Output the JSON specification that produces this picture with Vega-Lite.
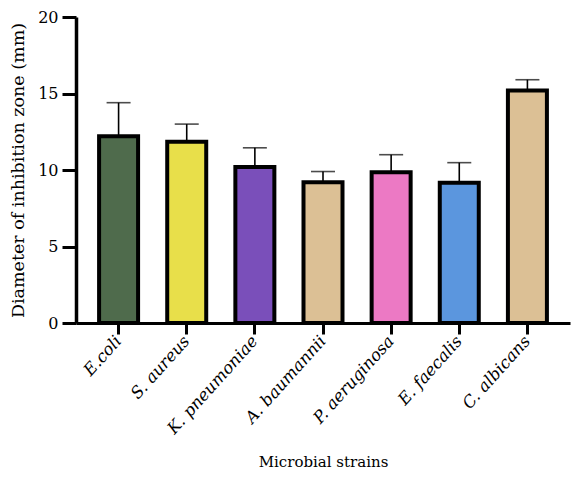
{
  "$schema": "https://vega.github.io/schema/vega-lite/v6.json",
  "width": 494,
  "height": 306,
  "autosize": {"type": "none"},
  "padding": {"left": 76, "top": 17, "right": 2, "bottom": 156},
  "background": "white",
  "config": {
    "view": {"stroke": null},
    "font": "DejaVu Serif"
  },
  "data": {
    "values": [
      {"strain": "E.coli", "mean": 12.2, "upper": 14.4, "color": "#4f6b4c"},
      {"strain": "S. aureus", "mean": 11.85, "upper": 13.0, "color": "#e8df4a"},
      {"strain": "K. pneumoniae", "mean": 10.2, "upper": 11.45, "color": "#7a4fba"},
      {"strain": "A. baumannii", "mean": 9.2, "upper": 9.9, "color": "#dcc095"},
      {"strain": "P. aeruginosa", "mean": 9.85, "upper": 11.0, "color": "#ec79c4"},
      {"strain": "E. faecalis", "mean": 9.17, "upper": 10.48, "color": "#5b96de"},
      {"strain": "C. albicans", "mean": 15.2, "upper": 15.9, "color": "#dcc095"}
    ]
  },
  "encoding": {
    "x": {
      "field": "strain",
      "type": "nominal",
      "sort": null,
      "scale": {"paddingInner": 0.37, "paddingOuter": 0.31},
      "axis": {
        "title": "Microbial strains",
        "titleFont": "DejaVu Serif",
        "titleFontSize": 15,
        "titleFontWeight": "normal",
        "titleColor": "black",
        "titlePadding": 18,
        "labelAngle": -48,
        "labelAlign": "right",
        "labelBaseline": "middle",
        "labelFont": "DejaVu Serif",
        "labelFontStyle": "italic",
        "labelFontSize": 16.5,
        "labelColor": "black",
        "labelPadding": 4,
        "domainColor": "black",
        "domainWidth": 3,
        "tickColor": "black",
        "tickWidth": 3,
        "tickSize": 11
      }
    }
  },
  "layer": [
    {
      "mark": {"type": "rule", "color": "black", "strokeWidth": 1.6},
      "encoding": {
        "y": {"field": "mean", "type": "quantitative"},
        "y2": {"field": "upper"}
      }
    },
    {
      "mark": {"type": "tick", "color": "black", "thickness": 1.6, "size": 24},
      "encoding": {
        "y": {"field": "upper", "type": "quantitative"}
      }
    },
    {
      "mark": {"type": "bar", "stroke": "black", "strokeWidth": 4, "size": 39},
      "encoding": {
        "y": {
          "field": "mean",
          "type": "quantitative",
          "scale": {"domain": [0, 20], "nice": false},
          "axis": {
            "title": "Diameter of inhibition zone (mm)",
            "titleFont": "DejaVu Serif",
            "titleFontSize": 17.5,
            "titleFontWeight": "normal",
            "titleColor": "black",
            "titlePadding": 10,
            "values": [0, 5, 10, 15, 20],
            "grid": false,
            "labelFont": "DejaVu Serif",
            "labelFontSize": 16,
            "labelColor": "black",
            "labelPadding": 4,
            "domainColor": "black",
            "domainWidth": 3.5,
            "tickColor": "black",
            "tickWidth": 3,
            "tickSize": 14
          }
        },
        "fill": {"field": "color", "type": "nominal", "scale": null}
      }
    }
  ]
}
